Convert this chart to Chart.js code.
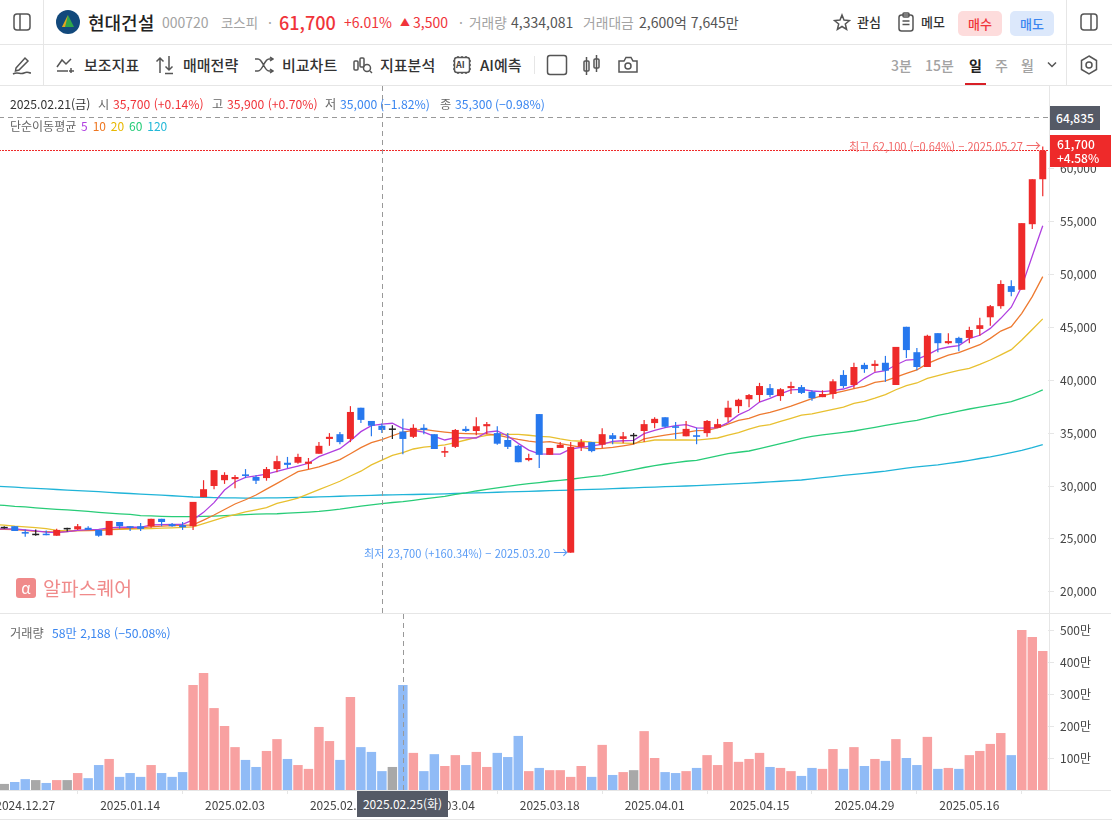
<!DOCTYPE html>
<html lang="ko">
<head>
<meta charset="utf-8">
<title>현대건설 차트</title>
<script src="https://cdn.jsdelivr.net/npm/chart.js@4/dist/chart.umd.min.js"></script>
<style>
  html, body { margin: 0; padding: 0; background: #fff; overflow: hidden; }
  body { width: 1112px; height: 820px; position: relative; font-family: 'Noto Sans CJK KR', 'Noto Sans', sans-serif; color: #333; }
  .t { position: absolute; white-space: nowrap; }
  .r1 { top: 0; line-height: 44px; font-size: 14px; }
  .r2 { top: 45px; line-height: 40px; font-size: 15px; font-weight: 500; }
  .line { position: absolute; background: #e6e6e6; }
  svg { position: absolute; fill: none; stroke: #555; stroke-width: 1.5; }
  canvas { position: absolute; left: -1px; }
  .info { font-size: 12.2px; line-height: 16px; color: #666; }
  .gray { color: #a3a3a3; }
  .dark { color: #555; }
  .red { color: #f0343a; }
  .blue { color: #3a86f0; }
  .btn { position: absolute; top: 11px; width: 44px; height: 25px; line-height: 25px; border-radius: 5px; text-align: center; font-size: 13px; font-weight: 500; }
  .tf { color: #a3a3a3; font-size: 14px; }
  .tag { position: absolute; left: 1050px; color: #fff; font-size: 12px; font-weight: 500; }
  .note { font-size: 11.1px; line-height: 16px; }
  .note b { font-weight: 400; font-size: 15px; line-height: 16px; }
</style>
</head>
<body>

<!-- 상단 종목 정보 -->
<svg style="left:13px;top:13px" width="18" height="18"><rect x="1" y="1" width="16" height="16" rx="3"/><line x1="7" y1="1" x2="7" y2="17"/></svg>
<svg style="left:56px;top:10px;stroke:none" width="24" height="24"><circle cx="12" cy="12" r="12" fill="#12497c"/><path d="M12 5 L18 17 H6 Z" fill="#2fa64a"/><path d="M12 5 L6 17 H9 Z" fill="#e8a020"/></svg>
<span class="t r1" style="left:88px;font-size:18px;font-weight:500;color:#222">현대건설</span>
<span class="t r1 gray" style="left:162px">000720</span>
<span class="t r1 gray" style="left:221px;font-size:13.4px">코스피</span>
<span class="t r1 gray" style="left:268px">·</span>
<span class="t r1 red" style="left:279px;font-size:18px;font-weight:500">61,700</span>
<span class="t r1 red" style="left:344px">+6.01%</span>
<span class="t r1 red" style="left:400px;font-size:10px">▲</span>
<span class="t r1 red" style="left:413px">3,500</span>
<span class="t r1 gray" style="left:459px">·</span>
<span class="t r1 gray" style="left:469px;font-size:13.7px">거래량</span>
<span class="t r1 dark" style="left:511px">4,334,081</span>
<span class="t r1 gray" style="left:583px;font-size:13.8px">거래대금</span>
<span class="t r1 dark" style="left:639px">2,600억 7,645만</span>
<svg style="left:833px;top:13px" width="18" height="18"><path d="M9 2 L11 7 L16.5 7.5 L12.3 11 L13.6 16.3 L9 13.5 L4.4 16.3 L5.7 11 L1.5 7.5 L7 7 Z"/></svg>
<span class="t r1" style="left:857px;font-size:13px;font-weight:500">관심</span>
<svg style="left:897px;top:12px" width="18" height="20"><rect x="2" y="3" width="14" height="16" rx="2.5"/><rect x="6" y="1" width="6" height="4" rx="1"/><line x1="5.5" y1="9" x2="12.5" y2="9"/><line x1="5.5" y1="12.5" x2="12.5" y2="12.5"/></svg>
<span class="t r1" style="left:921px;font-size:13px;font-weight:500">메모</span>
<div class="btn" style="left:958px;background:#fddcdc;color:#f0343a">매수</div>
<div class="btn" style="left:1010px;background:#dce8fb;color:#3a86f0">매도</div>
<svg style="left:1080px;top:13px" width="18" height="18"><rect x="1" y="1" width="16" height="16" rx="3"/><line x1="11" y1="1" x2="11" y2="17"/></svg>

<div class="line" style="left:0;top:44px;width:1112px;height:1px"></div>
<div class="line" style="left:0;top:85px;width:1112px;height:1px"></div>
<div class="line" style="left:43px;top:0;width:1px;height:85px"></div>
<div class="line" style="left:1066px;top:0;width:1px;height:85px"></div>

<!-- 도구 모음 -->
<svg style="left:12px;top:55px" width="20" height="20"><path d="M4 13 L13 3 L16 6 L7 15 L3.5 16 Z"/><path d="M1 19 C6 16 8 20 12 18 S16 18 19 18"/></svg>
<svg style="left:56px;top:56px" width="20" height="18"><path d="M1 11 L6 4 L10 8 L15 3"/><line x1="1" y1="15" x2="12" y2="15"/><line x1="15" y1="12" x2="15" y2="17"/><line x1="13" y1="15" x2="18" y2="15"/></svg>
<span class="t r2" style="left:84px">보조지표</span>
<svg style="left:155px;top:55px" width="20" height="20"><path d="M5 18 V3 M1.5 6.5 L5 3 L8.5 6.5"/><path d="M14 1 V15 M10.5 11.5 L14 15 L17.5 11.5 M10 18.5 H18"/></svg>
<span class="t r2" style="left:183px">매매전략</span>
<svg style="left:254px;top:56px" width="20" height="18"><path d="M1 3 H4 C9 3 10 15 15 15 H19 M1 15 H4 C9 15 10 3 15 3 H19 M16 1 L19 3 L16 5 M16 13 L19 15 L16 17"/></svg>
<span class="t r2" style="left:282px">비교차트</span>
<svg style="left:353px;top:55px" width="20" height="20"><rect x="1" y="6" width="4" height="9" rx="1"/><rect x="7" y="3" width="4" height="9" rx="1"/><circle cx="14" cy="13" r="3.5"/><line x1="17" y1="16" x2="19" y2="18"/></svg>
<span class="t r2" style="left:380px">지표분석</span>
<svg style="left:452px;top:55px" width="20" height="20"><rect x="2.5" y="2.5" width="15" height="15" rx="2.5"/><path d="M6 1 V3 M10 1 V3 M14 1 V3 M6 17 V19 M10 17 V19 M14 17 V19 M1 6 H3 M1 10 H3 M1 14 H3 M17 6 H19 M17 10 H19 M17 14 H19"/></svg>
<span class="t" style="left:456px;top:59px;font-size:9px;line-height:12px;font-weight:700;color:#444">AI</span>
<span class="t r2" style="left:480px">AI예측</span>
<div class="line" style="left:534px;top:56px;width:1px;height:18px"></div>
<svg style="left:546px;top:54px" width="22" height="22"><rect x="1.5" y="1.5" width="19" height="19" rx="2.5"/></svg>
<svg style="left:582px;top:54px" width="20" height="22"><rect x="2" y="7" width="5" height="10" rx="1"/><line x1="4.5" y1="3" x2="4.5" y2="21"/><rect x="12" y="5" width="5" height="9" rx="1"/><line x1="14.5" y1="1" x2="14.5" y2="18"/></svg>
<svg style="left:618px;top:55px" width="20" height="20"><path d="M1 6 H6 L8 2.5 H13 L15 6 H19 V17 H1 Z"/><circle cx="10" cy="11" r="3"/></svg>
<span class="t r2 tf" style="left:891px">3분</span>
<span class="t r2 tf" style="left:925px">15분</span>
<span class="t r2" style="left:969px;color:#222;font-weight:700;font-size:14px">일</span>
<span class="t r2 tf" style="left:995px">주</span>
<span class="t r2 tf" style="left:1021px">월</span>
<div style="position:absolute;left:965px;top:83px;width:21px;height:2px;background:#d81f26"></div>
<svg style="left:1047px;top:61px" width="10" height="8"><path d="M1 1.5 L5 5.5 L9 1.5"/></svg>
<svg style="left:1079px;top:55px" width="20" height="20"><path d="M10 1 L17.5 5.5 V14.5 L10 19 L2.5 14.5 V5.5 Z"/><circle cx="10" cy="10" r="3"/></svg>

<!-- 차트 -->
<canvas id="priceChart" width="1112" height="527" style="top:86px"></canvas>
<canvas id="volumeChart" width="1112" height="206" style="top:614px"></canvas>
<div class="line" style="left:0;top:613px;width:1111px;height:1px"></div>
<div class="line" style="left:0;top:790px;width:1111px;height:1px"></div>
<div class="line" style="left:0;top:819px;width:1112px;height:1px"></div>
<div class="line" style="left:1049px;top:86px;width:1px;height:704px"></div>

<!-- 오버레이 -->
<div class="t info" style="left:10px;top:96px;color:#333">2025.02.21(금)</div>
<div class="t info" style="left:98px;top:96px">시</div>
<div class="t info red" style="left:113px;top:96px">35,700 (+0.14%)</div>
<div class="t info" style="left:212px;top:96px">고</div>
<div class="t info red" style="left:227px;top:96px">35,900 (+0.70%)</div>
<div class="t info" style="left:325px;top:96px">저</div>
<div class="t info blue" style="left:340px;top:96px">35,000 (−1.82%)</div>
<div class="t info" style="left:440px;top:96px">종</div>
<div class="t info blue" style="left:455px;top:96px">35,300 (−0.98%)</div>
<div class="t info" style="left:10px;top:118px;font-size:12px;word-spacing:1.5px">단순이동평균 <span style="color:#b040e0">5</span> <span style="color:#ee7722">10</span> <span style="color:#e8b800">20</span> <span style="color:#22cc77">60</span> <span style="color:#22b8d8">120</span></div>
<div class="tag" style="top:106px;width:50px;height:24px;line-height:24px;background:#555a66;text-align:center">64,835</div>
<div class="tag" style="top:135px;width:61px;height:32px;line-height:14px;background:#ee2a2a;padding:2px 0 0 7px;box-sizing:border-box">61,700<br>+4.58%</div>
<div class="t note" style="right:71px;top:137px;color:#f26a6a">최고 62,100 (−0.64%) − 2025.05.27 <b>→</b></div>
<div class="t note" style="left:364px;top:544px;color:#5a9cf5">최저 23,700 (+160.34%) − 2025.03.20 <b>→</b></div>
<div style="position:absolute;left:16px;top:578px;width:20px;height:20px;border-radius:3px;background:#f08a8a;color:#fff;font-size:15px;line-height:20px;text-align:center">α</div>
<div class="t" style="left:43px;top:576px;font-size:19.4px;line-height:24px;color:#f08a8a">알파스퀘어</div>
<div class="t info" style="left:10px;top:625px">거래량</div>
<div class="t info blue" style="left:52px;top:625px">58만 2,188 (−50.08%)</div>
<div class="tag" style="left:357px;top:791px;width:91px;height:26px;line-height:26px;background:#555a66;text-align:center;font-weight:400">2025.02.25(화)</div>

<script>
// ---------- 데이터 ----------
// 맨 앞 한 칸은 화면 왼쪽 밖 거래일 (이동평균선이 가장자리까지 이어지도록)
const dates = [
  '2024.12.23',
  '2024.12.24','2024.12.26','2024.12.27','2024.12.30','2025.01.02','2025.01.03','2025.01.06','2025.01.07','2025.01.08','2025.01.09',
  '2025.01.10','2025.01.13','2025.01.14','2025.01.15','2025.01.16','2025.01.17','2025.01.20','2025.01.21','2025.01.22','2025.01.23',
  '2025.01.24','2025.01.31','2025.02.03','2025.02.04','2025.02.05','2025.02.06','2025.02.07','2025.02.10','2025.02.11','2025.02.12',
  '2025.02.13','2025.02.14','2025.02.17','2025.02.18','2025.02.19','2025.02.20','2025.02.21','2025.02.24','2025.02.25','2025.02.26',
  '2025.02.27','2025.02.28','2025.03.04','2025.03.05','2025.03.06','2025.03.07','2025.03.10','2025.03.11','2025.03.12','2025.03.13',
  '2025.03.14','2025.03.17','2025.03.18','2025.03.19','2025.03.20','2025.03.21','2025.03.24','2025.03.25','2025.03.26','2025.03.27',
  '2025.03.28','2025.03.31','2025.04.01','2025.04.02','2025.04.03','2025.04.04','2025.04.07','2025.04.08','2025.04.09','2025.04.10',
  '2025.04.11','2025.04.14','2025.04.15','2025.04.16','2025.04.17','2025.04.18','2025.04.21','2025.04.22','2025.04.23','2025.04.24',
  '2025.04.25','2025.04.28','2025.04.29','2025.04.30','2025.05.02','2025.05.07','2025.05.08','2025.05.09','2025.05.12','2025.05.13',
  '2025.05.14','2025.05.15','2025.05.16','2025.05.19','2025.05.20','2025.05.21','2025.05.22','2025.05.23','2025.05.26','2025.05.27',
];
const firstDate  = '2024.12.24';
const tickDates  = ['2024.12.27','2025.01.14','2025.02.03','2025.02.17','2025.03.04','2025.03.18','2025.04.01','2025.04.15','2025.04.29','2025.05.16'];
const priceTicks = [20000,25000,30000,35000,40000,45000,50000,55000,60000];
const volumeTicks = [100,200,300,400,500];

const opens = [
  26000,
  26000,26200,25650,25350,25450,25300,25900,25900,26050,25850,
  25350,26600,26200,26200,26200,26900,26400,26300,26200,28950,
  30000,30550,30650,31100,30850,30750,31600,32200,32200,32100,
  33050,34450,34900,34450,37400,36150,35700,35300,35150,34650,
  35500,34900,33150,33700,35400,35200,35650,35000,34350,33800,
  32450,36800,32950,33600,23700,33700,34150,33900,34800,34450,
  34700,35200,35950,36500,35650,34700,34800,35000,35500,36500,
  37550,38200,38600,39250,38500,39250,39350,38900,38400,38700,
  40500,39550,41450,41350,41650,39550,45050,42650,41250,44450,
  43500,44000,44000,44850,45950,47000,48900,48550,54750,59000,
];
const closes = [
  26000,
  26000,25750,25500,25350,25350,25850,25900,26200,25850,25300,
  26700,26200,26050,25950,26900,26600,26200,26100,28500,29700,
  31500,31050,30850,30950,30500,31600,32350,32000,32750,32300,
  33800,34650,34150,37000,36250,35700,35300,35300,34450,35500,
  35300,33500,33300,35300,35200,35650,35850,34000,33700,32250,
  32650,32950,33600,33900,33700,34150,33300,34900,34450,34700,
  34700,35850,36350,35600,35500,35400,34650,36150,35850,37400,
  38150,38600,39450,38600,39150,39450,38800,38300,38700,39900,
  39450,41250,41050,41550,40900,43150,42850,41250,44200,43500,
  43700,43500,44750,45200,47000,49100,48350,54850,59000,61700,
];
const highs = [
  26100,
  26200,26200,25900,25900,25800,25950,26050,26400,26200,25850,
  26700,26600,26200,26500,26900,26900,26500,26600,28500,30550,
  31500,31300,31050,31600,31050,31800,32850,32750,33050,32650,
  34150,35000,35100,37550,37400,36150,35900,35750,36350,35850,
  35850,34900,33700,35400,35650,36500,36050,35650,35000,33900,
  33050,36800,33600,34150,34150,34450,34150,35450,35000,35100,
  35000,36250,36500,36500,36050,36150,35500,36250,36350,38050,
  38250,38700,39750,39650,39250,39850,39550,39050,39050,40100,
  40950,41650,41650,41900,42300,43150,45050,43050,44300,44450,
  44450,44100,45050,45900,47100,49450,49450,54850,59000,62100,
];
const lows = [
  25900,
  25950,25750,25200,25300,25350,25300,25700,25850,25850,25200,
  25350,25950,25750,25750,26050,26200,26150,25850,25850,28950,
  29700,30200,29800,30750,30200,30500,31300,31700,32100,31600,
  33050,33800,33950,34150,35950,34700,35000,34450,33000,34550,
  34900,33500,32750,33600,35100,34800,34900,33900,33500,32250,
  32350,31700,32950,33600,23700,33300,33200,33600,33950,34050,
  33950,34150,35450,35500,34450,34700,33950,34650,35500,36050,
  36900,37450,37950,38400,38050,38700,38700,38050,38400,38250,
  39250,39250,40700,40800,39850,39550,42100,40950,41250,42650,
  43400,42750,43500,44200,45150,46750,47950,48550,54300,57400,
];

const ma5 = [
  25960,
  25950,25950,25850,25750,25650,25590,25680,25810,25880,25900,
  26050,26100,26100,26100,26320,26350,26370,26380,26800,27510,
  28430,29620,30380,30820,30950,31130,31390,31640,31890,32150,
  32780,33150,33530,34290,35140,35700,35850,35930,35420,35250,
  35100,34700,34350,34570,34550,34540,35100,35200,34730,34030,
  33400,33030,33020,33020,33500,33650,33800,33940,34220,34280,
  34320,34950,35250,35510,35700,35800,35500,35480,35520,35990,
  36720,37180,37940,38290,38700,39080,39140,38980,38920,39010,
  39170,39480,40180,40750,40900,41440,41910,41980,42390,42920,
  43140,43270,43930,44250,44900,45850,46900,48850,51750,54600,
];
const ma10 = [
  25920,
  25900,25880,25800,25720,25680,25650,25700,25780,25790,25800,
  25870,25950,26000,26050,26150,26200,26250,26280,26320,26780,
  27260,27780,28300,28700,29150,29700,30250,30800,31360,31580,
  31800,32150,32490,33050,33630,34100,34380,34750,35100,35250,
  35360,35220,35100,35000,34950,34920,34920,34820,34600,34400,
  34250,34130,34190,34000,33850,33650,33500,33550,33650,33800,
  33950,34450,34650,34820,34950,35080,35230,35260,35500,35860,
  36210,36400,36750,36950,37250,37560,37910,38250,38540,38760,
  38980,39200,39420,39800,39930,40300,40650,40970,41570,42000,
  42380,42600,42980,43360,43960,44650,45060,46320,47900,49790,
];
const ma20 = [
  26350,
  26300,26200,26130,26060,25970,25800,25760,25780,25800,25840,
  25880,25900,25930,25950,25980,26010,26050,26090,26130,26450,
  26750,27050,27300,27560,27750,27950,28350,28600,28850,29250,
  29650,30050,30450,30950,31400,32000,32450,32900,33150,33500,
  33680,33780,33880,34100,34350,34600,34780,34870,34880,34880,
  34800,34700,34650,34450,34300,34230,34150,34100,34080,34060,
  34030,34180,34350,34350,34350,34350,34340,34430,34540,34800,
  35050,35370,35670,35800,36100,36400,36700,36820,37030,37250,
  37450,37820,37990,38300,38640,39100,39490,39740,40180,40430,
  40700,40940,41130,41500,41910,42400,42890,43800,44800,45800,
];
const ma60 = [
  28220,
  28170,28080,28030,27940,27870,27800,27740,27670,27600,27510,
  27430,27370,27310,27210,27170,27130,27110,27100,27100,27130,
  27160,27200,27250,27290,27340,27360,27380,27430,27480,27530,
  27600,27700,27810,27950,28100,28220,28330,28440,28530,28650,
  28780,28900,29030,29200,29350,29530,29680,29830,29960,30100,
  30220,30330,30450,30540,30640,30770,30880,30980,31170,31350,
  31540,31750,31920,32080,32220,32340,32430,32630,32850,33070,
  33190,33310,33530,33760,34000,34240,34500,34700,34830,34950,
  35070,35200,35380,35550,35730,35900,36070,36210,36450,36680,
  36860,37070,37280,37450,37620,37790,37980,38300,38650,39080,
];
const ma120 = [
  29980,
  29940,29890,29830,29770,29720,29670,29620,29570,29510,29460,
  29400,29340,29290,29240,29190,29140,29080,29020,28960,28940,
  28910,28880,28870,28860,28860,28870,28880,28900,28920,28940,
  28970,29000,29030,29060,29090,29120,29150,29160,29180,29200,
  29220,29240,29260,29290,29320,29350,29380,29410,29440,29470,
  29500,29530,29560,29590,29620,29650,29680,29710,29750,29790,
  29830,29870,29900,29940,29970,30000,30030,30080,30130,30180,
  30230,30280,30330,30390,30450,30510,30570,30680,30790,30890,
  31000,31100,31200,31300,31400,31550,31700,31800,31900,32000,
  32130,32270,32430,32600,32750,32950,33150,33370,33620,33910,
];

// 거래량 (단위: 만주)
const volumes = [
  20,
  19,25,34,31,22,31,31,53,37,78,
  97,41,53,41,78,53,41,56,328,366,
  256,200,134,94,72,122,159,97,78,66,
  197,153,94,291,134,119,59,72,328,116,
  59,112,75,109,78,119,72,116,103,169,
  59,69,62,62,41,75,41,141,47,56,
  62,184,100,56,53,59,69,109,78,150,
  88,97,116,72,69,59,44,69,66,128,
  66,134,75,97,91,159,100,78,166,66,
  69,66,109,122,144,178,109,500,478,434,
];
// u 상승, d 하락, f 보합
const volumeDirs = [
  'f',
  'f','d','d','f','d','u','f','u','d','d',
  'u','d','d','d','u','d','d','d','u','u',
  'u','u','u','d','d','u','u','d','u','u',
  'u','u','d','u','d','d','d','f','d','u',
  'd','d','u','u','d','u','u','d','d','d',
  'u','d','u','u','u','u','d','u','d','u',
  'f','u','u','d','d','u','d','u','u','u',
  'u','u','u','d','u','u','d','d','u','u',
  'd','u','d','u','d','u','d','d','u','d',
  'u','d','u','u','u','u','d','u','u','u',
];

const crosshairPrice = 64835;
const lastPrice      = 61700;
const priceCrossDate  = '2025.02.21';
const volumeCrossDate = '2025.02.25';

// ---------- 스타일 ----------
const FONT    = "'Noto Sans CJK KR', 'Noto Sans', sans-serif";
const RED     = '#ee2a2a';
const BLUE    = '#2778ee';
const BLACK   = '#222222';
const VOL     = { u: '#f8a1a1', d: '#90bbf6', f: '#a8a8a8' };
const MA_COLS = ['#b040e0', '#ee7a30', '#e8c030', '#28cc78', '#20b4d8'];
const AXIS_W  = 63;

Chart.defaults.font.family = FONT;
Chart.defaults.font.size   = 12;
Chart.defaults.color       = '#444';
Chart.defaults.animation   = false;

const candleColor = dates.map((_, i) => closes[i] > opens[i] ? RED : closes[i] < opens[i] ? BLUE : BLACK);

function lineDs(data, color) {
  return { type: 'line', data, borderColor: color, borderWidth: 1.3, pointRadius: 0, tension: 0, order: 5 };
}

function fixYAxis(s) {
  s.width = AXIS_W;
  s.paddingTop = 0;
  s.paddingBottom = 0;
}

// 십자선, 현재가 점선
const priceLines = {
  id: 'priceLines',
  afterDatasetsDraw(chart) {
    const { ctx, chartArea: a, scales } = chart;
    ctx.save();
    ctx.lineWidth = 1;

    ctx.strokeStyle = '#999';
    ctx.setLineDash([5, 4]);
    const cy = Math.floor(scales.y.getPixelForValue(crosshairPrice)) + 0.5;
    ctx.beginPath(); ctx.moveTo(a.left, cy); ctx.lineTo(a.right, cy); ctx.stroke();
    const cx = Math.round(scales.x.getPixelForValue(dates.indexOf(priceCrossDate))) + 0.5;
    ctx.beginPath(); ctx.moveTo(cx, a.top); ctx.lineTo(cx, a.bottom); ctx.stroke();

    ctx.strokeStyle = RED;
    ctx.setLineDash([2, 1]);
    const ly = Math.floor(scales.y.getPixelForValue(lastPrice)) + 0.5;
    ctx.beginPath(); ctx.moveTo(a.left, ly); ctx.lineTo(a.right, ly); ctx.stroke();
    ctx.restore();
  },
};

const volumeLine = {
  id: 'volumeLine',
  afterDatasetsDraw(chart) {
    const { ctx, chartArea: a, scales } = chart;
    const cx = Math.round(scales.x.getPixelForValue(dates.indexOf(volumeCrossDate))) + 0.5;
    ctx.save();
    ctx.strokeStyle = '#999';
    ctx.setLineDash([5, 4]);
    ctx.beginPath(); ctx.moveTo(cx, a.top); ctx.lineTo(cx, a.bottom); ctx.stroke();
    ctx.restore();
  },
};

new Chart(document.getElementById('priceChart'), {
  type: 'bar',
  data: {
    labels: dates,
    datasets: [
      { data: dates.map((_, i) => [opens[i], closes[i]]), backgroundColor: candleColor, barThickness: 7, grouped: false, minBarLength: 1.5, inflateAmount: 0, order: 1 },
      { data: dates.map((_, i) => [lows[i], highs[i]]), backgroundColor: candleColor, barThickness: 1.2, grouped: false, inflateAmount: 0, order: 2 },
      lineDs(ma5, MA_COLS[0]),
      lineDs(ma10, MA_COLS[1]),
      lineDs(ma20, MA_COLS[2]),
      lineDs(ma60, MA_COLS[3]),
      lineDs(ma120, MA_COLS[4]),
    ],
  },
  options: {
    responsive: false,
    layout: { padding: 0 },
    plugins: { legend: { display: false }, tooltip: { enabled: false } },
    scales: {
      x: { display: false, offset: true, min: firstDate },
      y: {
        position: 'right',
        min: 17996, max: 67813,
        afterBuildTicks: s => { s.ticks = priceTicks.map(value => ({ value })); },
        afterFit: fixYAxis,
        border: { display: false },
        grid: { drawOnChartArea: false, color: '#e6e6e6', tickLength: 6 },
        ticks: { padding: 6, callback: v => v.toLocaleString('en-US') },
      },
    },
  },
  plugins: [priceLines],
});

new Chart(document.getElementById('volumeChart'), {
  type: 'bar',
  data: {
    labels: dates,
    datasets: [{
      data: volumes,
      backgroundColor: volumeDirs.map(d => VOL[d]),
      barPercentage: 0.9,
      categoryPercentage: 1,
      inflateAmount: 0,
    }],
  },
  options: {
    responsive: false,
    layout: { padding: 0 },
    plugins: { legend: { display: false }, tooltip: { enabled: false } },
    scales: {
      x: {
        offset: true,
        min: firstDate,
        afterBuildTicks: s => { s.ticks = s.ticks.filter(t => tickDates.includes(dates[t.value])); },
        afterFit: s => { s.height = 30; s.paddingLeft = 0; s.paddingRight = 0; },
        border: { display: false },
        grid: { drawOnChartArea: false, color: '#e6e6e6', tickLength: 4 },
        ticks: { autoSkip: false, maxRotation: 0, padding: 4 },
      },
      y: {
        position: 'right',
        min: 0, max: 550,
        afterBuildTicks: s => { s.ticks = volumeTicks.map(value => ({ value })); },
        afterFit: fixYAxis,
        border: { display: false },
        grid: { drawOnChartArea: false, color: '#e6e6e6', tickLength: 6 },
        ticks: { padding: 6, callback: v => v + '만' },
      },
    },
  },
  plugins: [volumeLine],
});
</script>
</body>
</html>
